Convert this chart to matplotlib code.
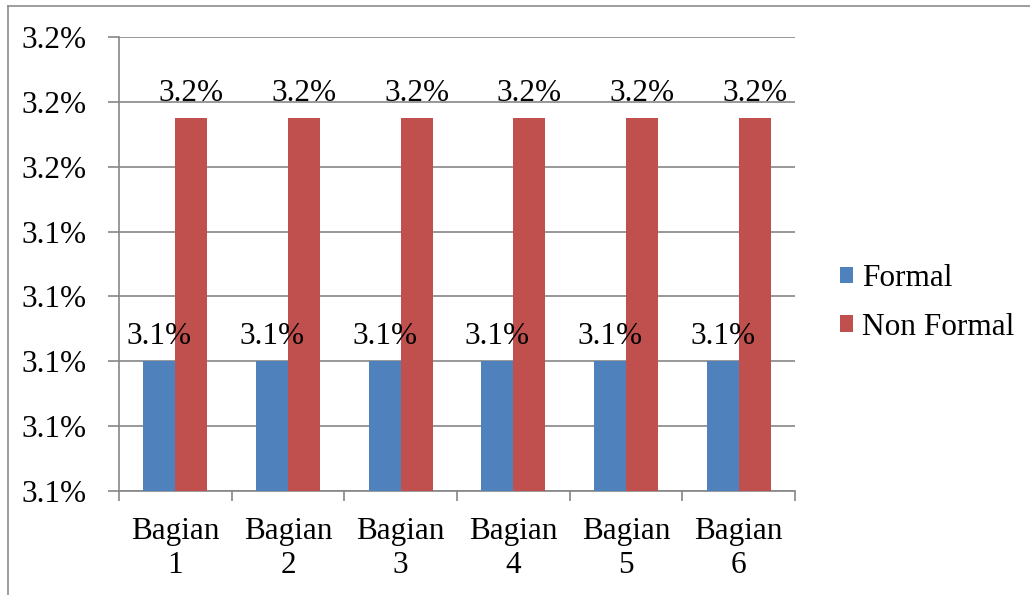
import numpy as np
import matplotlib
matplotlib.use("Agg")
import matplotlib.pyplot as plt
from matplotlib.ticker import FuncFormatter, FixedLocator
from matplotlib.lines import Line2D

categories = ["Bagian\n1", "Bagian\n2", "Bagian\n3", "Bagian\n4", "Bagian\n5", "Bagian\n6"]
formal = [0.0312, 0.0312, 0.0312, 0.0312, 0.0312, 0.0312]
non_formal = [0.031575, 0.031575, 0.031575, 0.031575, 0.031575, 0.031575]
y_ticks = [0.0310, 0.0311, 0.0312, 0.0313, 0.0314, 0.0315, 0.0316, 0.0317]

plt.rcParams['font.family'] = ['Liberation Serif', 'DejaVu Serif']
fs = 22.5
grey = '#868686'

fig = plt.figure(figsize=(10.3, 5.95), dpi=100)
ax = fig.add_axes([119/1030, 1-491/595, (795-119)/1030, (491-37)/595])

x = np.arange(len(categories))
w = 0.284
b1 = ax.bar(x - w/2, formal, w, color='#4F81BD', label='Formal', zorder=3)
b2 = ax.bar(x + w/2, non_formal, w, color='#C0504D', label='Non Formal', zorder=3)

def pct(v, pos=None):
    return f"{v*100 + 1e-9:.1f}%"

for bars in (b1, b2):
    for r in bars:
        ax.annotate(pct(r.get_height()), (r.get_x() + r.get_width()/2, r.get_height()),
                    xytext=(0, 12.5), textcoords='offset points',
                    ha='center', va='baseline', fontsize=fs, zorder=5)

ax.set_ylim(y_ticks[0], y_ticks[-1])
ax.yaxis.set_major_locator(FixedLocator(y_ticks))
ax.yaxis.set_major_formatter(FuncFormatter(pct))
ax.set_xlim(-0.5, len(categories) - 0.5)
ax.set_xticks(x)
ax.set_xticklabels(categories, fontsize=fs, linespacing=1.22)
ax.set_xticks(np.arange(len(categories) + 1) - 0.5, minor=True)
ax.tick_params(axis='x', which='major', length=0, pad=19)
ax.tick_params(axis='x', which='minor', length=7, color=grey, width=1.2)
ax.tick_params(axis='y', length=8, color=grey, width=1.2, labelsize=fs, pad=15)

ax.grid(axis='y', color=grey, linewidth=1.2, zorder=0)
for s in ('top', 'right'):
    ax.spines[s].set_visible(False)
for s in ('left', 'bottom'):
    ax.spines[s].set_color(grey)
    ax.spines[s].set_linewidth(1.2)

fig.legend(handles=[b1, b2], loc='center left', bbox_to_anchor=(840/1030, 1-303/595),
           frameon=False, fontsize=fs, handlelength=0.42, handleheight=0.42,
           handletextpad=0.3, labelspacing=0.62, borderaxespad=0, borderpad=0)

# outer chart frame (cropped: only top and left visible)
fig.add_artist(Line2D([7.5/1030, 7.5/1030], [0, 1-6/595], color='#8c8c8c', lw=1.2, transform=fig.transFigure))
fig.add_artist(Line2D([7.5/1030, 1], [1-6/595, 1-6/595], color='#8c8c8c', lw=1.2, transform=fig.transFigure))

fig.savefig("out.png", dpi=100)
